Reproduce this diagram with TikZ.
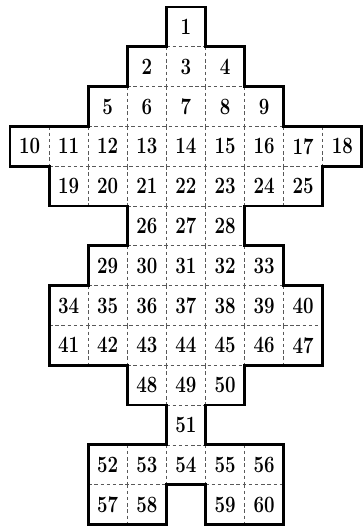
\documentclass[tikz,border=0pt]{standalone}
\usepackage{graphicx}
\usepackage{tikz}

\begin{document}
\begin{tikzpicture}[
    x=1cm, y=1.018cm,
    font=\fontsize{17}{17}\selectfont\bfseries,
    rim/.style={line width=2.1pt, line join=miter},
    seam/.style={black!65, line width=0.45pt, dash pattern=on 2.5pt off 2pt},
    num/.style={inner sep=0pt},
  ]
    \useasboundingbox (-4.756,0.176) rectangle (4.553,-13.04);

    % row / first number / leftmost column / cells
    \foreach \r/\s/\l/\n in {1/1/0/1, 2/2/-1/3, 3/5/-2/5, 4/10/-4/9, 5/19/-3/7, 6/26/-1/3,
                             7/29/-2/5, 8/34/-3/7, 9/41/-3/7, 10/48/-1/3, 11/51/0/1, 12/52/-2/5}
      \foreach \i in {1,...,\n} {
        \pgfmathtruncatemacro\k{\s+\i-1}
        \node[num] (n\k) at (\l+\i-1, 0.5-\r) {\scalebox{0.8}[1]{\k}};
        \ifnum\i<\n \draw[seam] (\l+\i-0.5, 1-\r) -- (\l+\i-0.5, -\r); \fi
      }
    \foreach \k/\c in {57/-2, 58/-1, 59/1, 60/2}
      \node[num] (n\k) at (\c, -12.5) {\scalebox{0.8}[1]{\k}};
    \foreach \c in {-1.5, 1.5} \draw[seam] (\c,-12) -- (\c,-13);

    % thin seams between the rows
    \foreach \y/\a/\b in {1/-0.5/0.5, 2/-1.5/1.5, 3/-2.5/2.5, 4/-3.5/3.5, 5/-1.5/1.5, 6/-1.5/1.5,
                          7/-2.5/2.5, 8/-3.5/3.5, 9/-1.5/1.5, 10/-0.5/0.5, 11/-0.5/0.5,
                          12/-2.5/-0.5, 12/0.5/2.5}
      \draw[seam] (\a,-\y) -- (\b,-\y);

    % outer rim
    \draw[rim] (-0.5,0) -- (0.5,0) -- (0.5,-1) -- (1.5,-1) -- (1.5,-2) -- (2.5,-2) -- (2.5,-3)
      -- (4.5,-3) -- (4.5,-4) -- (3.5,-4) -- (3.5,-5) -- (1.5,-5) -- (1.5,-6) -- (2.5,-6)
      -- (2.5,-7) -- (3.5,-7) -- (3.5,-9) -- (1.5,-9) -- (1.5,-10) -- (0.5,-10) -- (0.5,-11)
      -- (2.5,-11) -- (2.5,-13) -- (0.5,-13) -- (0.5,-12) -- (-0.5,-12) -- (-0.5,-13)
      -- (-2.5,-13) -- (-2.5,-11) -- (-0.5,-11) -- (-0.5,-10) -- (-1.5,-10) -- (-1.5,-9)
      -- (-3.5,-9) -- (-3.5,-7) -- (-2.5,-7) -- (-2.5,-6) -- (-1.5,-6) -- (-1.5,-5)
      -- (-3.5,-5) -- (-3.5,-4) -- (-4.5,-4) -- (-4.5,-3) -- (-2.5,-3) -- (-2.5,-2)
      -- (-1.5,-2) -- (-1.5,-1) -- (-0.5,-1) -- cycle;
  \end{tikzpicture}
\end{document}
